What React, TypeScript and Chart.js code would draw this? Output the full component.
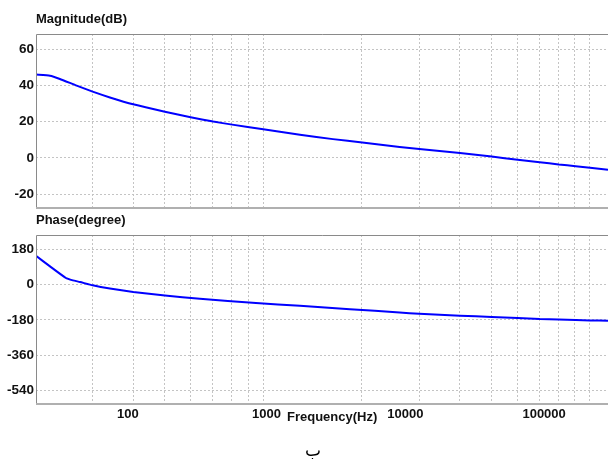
import React, { useEffect, useRef } from "react";
import { Chart, registerables } from "chart.js";

Chart.register(...registerables);

// ---- data ----
const magFreqHz = [21.8, 27.5, 32.4, 42.8, 55.8, 74.3, 109.4, 185.1, 283.6, 412.6, 565.5, 946, 1739, 3008, 4892, 9097, 12600, 24750, 41880, 64480, 92900, 127300, 168800, 214100, 288600];
const magnitudeDb = [45.9, 45.3, 43.5, 39.8, 36.5, 33.3, 29.5, 25.4, 22.4, 20.0, 18.3, 15.8, 12.7, 10.3, 8.5, 6.0, 4.8, 2.6, 0.7, -1.1, -2.4, -3.7, -4.6, -5.5, -6.6];

const phaseFreqHz = [21.8, 27.5, 35.8, 40.2, 45.2, 55.8, 74.3, 109.4, 185.1, 330.8, 838, 1739, 3988, 9097, 12600, 24750, 41880, 64480, 92900, 127300, 168800, 214100, 288600];
const phaseDeg = [147, 93, 34, 22, 13.6, -3.5, -20, -37, -55, -72, -93, -108, -125, -142, -148, -158, -165, -170, -175, -177, -180, -182, -184];

const freqTickLabels = [100, 1000, 10000, 100000];
const magTicks = [-20, 0, 20, 40, 60];
const phaseTicks = [-540, -360, -180, 0, 180];

// axis ranges
const X_MIN = 21.8;
const X_MAX = 288600;
const MAG_MIN = -27.7;
const MAG_MAX = 68.3;
const PHASE_MIN = -608;
const PHASE_MAX = 253;

// vertical grid lines of the original plot (its own 1..10 log grid)
const GRID_MULTS = [3, 4, 5, 6, 7, 8, 9, 10, 20, 30, 40, 50, 60, 70, 80, 90, 100];
const GRID_BASE_HZ = 946;
const GRID_EXP = 2.354;
const gridFreqs = GRID_MULTS.map((m) => GRID_BASE_HZ * Math.pow(m / 10, GRID_EXP));

const FONT = "'Liberation Sans', Arial, sans-serif";
const GRID_COLOR = "#c4c4c4";
const TEXT_COLOR = "#111";

const framePlugin = {
  id: "frame",
  afterDraw(chart: any) {
    const { ctx, chartArea } = chart;
    const { left, top, right, bottom } = chartArea;
    ctx.save();
    ctx.strokeStyle = "#8a8a8a";
    ctx.lineWidth = 1;
    ctx.beginPath();
    ctx.moveTo(left + 0.5, bottom);
    ctx.lineTo(left + 0.5, top + 0.5);
    ctx.lineTo(right, top + 0.5);
    ctx.stroke();
    ctx.strokeStyle = "#b0b0b0";
    ctx.lineWidth = 2;
    ctx.beginPath();
    ctx.moveTo(left, bottom);
    ctx.lineTo(right, bottom);
    ctx.stroke();
    ctx.restore();
  },
};

function xScale(showLabels: boolean) {
  const all = [...gridFreqs, ...freqTickLabels].sort((a, b) => a - b);
  return {
    type: "logarithmic",
    min: X_MIN,
    max: X_MAX,
    afterBuildTicks: (scale: any) => {
      scale.ticks = all.map((v) => ({ value: v }));
    },
    afterFit: (scale: any) => {
      scale.height = showLabels ? 20 : 0;
    },
    grid: {
      drawTicks: false,
      lineWidth: 1,
      color: (ctx: any) =>
        ctx.tick && freqTickLabels.includes(ctx.tick.value) ? "rgba(0,0,0,0)" : GRID_COLOR,
    },
    border: { display: false, dash: [2, 2] },
    ticks: {
      display: showLabels,
      autoSkip: false,
      maxRotation: 0,
      minRotation: 0,
      padding: 3,
      color: TEXT_COLOR,
      font: { family: FONT, size: 13, weight: "bold" },
      callback: (value: any) => (freqTickLabels.includes(value) ? String(value) : ""),
    },
  };
}

function yScale(min: number, max: number, ticks: number[]) {
  return {
    type: "linear",
    min,
    max,
    afterBuildTicks: (scale: any) => {
      scale.ticks = ticks.map((v) => ({ value: v }));
    },
    afterFit: (scale: any) => {
      scale.width = 36;
    },
    grid: { drawTicks: false, color: GRID_COLOR, lineWidth: 1 },
    border: { display: false, dash: [2, 2] },
    ticks: {
      padding: 2,
      color: TEXT_COLOR,
      font: { family: FONT, size: 13.5, weight: "bold" },
    },
  };
}

function makeConfig(
  freqs: number[],
  values: number[],
  y: any,
  showX: boolean,
  padding: any
) {
  return {
    type: "line",
    data: {
      datasets: [
        {
          data: freqs.map((f, i) => ({ x: f, y: values[i] })),
          borderColor: "#0000ff",
          borderWidth: 2,
          pointRadius: 0,
          fill: false,
          tension: 0.15,
        },
      ],
    },
    options: {
      animation: false,
      responsive: false,
      devicePixelRatio: 1,
      layout: { padding },
      plugins: { legend: { display: false }, tooltip: { enabled: false }, title: { display: false } },
      scales: { x: xScale(showX), y },
    },
    plugins: [framePlugin],
  };
}

function PanelChart(props: { config: any; top: number; height: number }) {
  const ref = useRef<HTMLCanvasElement>(null);
  useEffect(() => {
    if (!ref.current) return;
    const chart = new Chart(ref.current, props.config);
    return () => chart.destroy();
  }, []);
  return (
    <canvas
      ref={ref}
      width={620}
      height={props.height}
      style={{ position: "absolute", left: 0, top: props.top, width: 620, height: props.height }}
    />
  );
}

const labelStyle: React.CSSProperties = {
  position: "absolute",
  fontFamily: FONT,
  fontWeight: "bold",
  fontSize: 13,
  lineHeight: "15px",
  color: TEXT_COLOR,
  whiteSpace: "nowrap",
};

export default function App() {
  const magConfig = makeConfig(
    magFreqHz,
    magnitudeDb,
    yScale(MAG_MIN, MAG_MAX, magTicks),
    false,
    { top: 34, bottom: 12, left: 0, right: 12 }
  );
  const phaseConfig = makeConfig(
    phaseFreqHz,
    phaseDeg,
    yScale(PHASE_MIN, PHASE_MAX, phaseTicks),
    true,
    { top: 23, bottom: 16, left: 0, right: 12 }
  );
  return (
    <div
      style={{
        position: "absolute",
        left: 0,
        top: 0,
        width: 608,
        height: 459,
        overflow: "hidden",
        background: "#fff",
      }}
    >
      <PanelChart config={magConfig} top={0} height={220} />
      <PanelChart config={phaseConfig} top={212} height={228} />
      <div style={{ ...labelStyle, left: 36, top: 11 }}>Magnitude(dB)</div>
      <div style={{ ...labelStyle, left: 36, top: 212 }}>Phase(degree)</div>
      <div style={{ ...labelStyle, left: 287, top: 409 }}>Frequency(Hz)</div>
      <div
        dir="rtl"
        style={{
          position: "absolute",
          left: 293,
          top: 441,
          width: 40,
          textAlign: "center",
          fontFamily: "'DejaVu Sans', sans-serif",
          fontSize: 17,
          lineHeight: "19px",
          color: "#000",
        }}
      >
        ب
      </div>
    </div>
  );
}
